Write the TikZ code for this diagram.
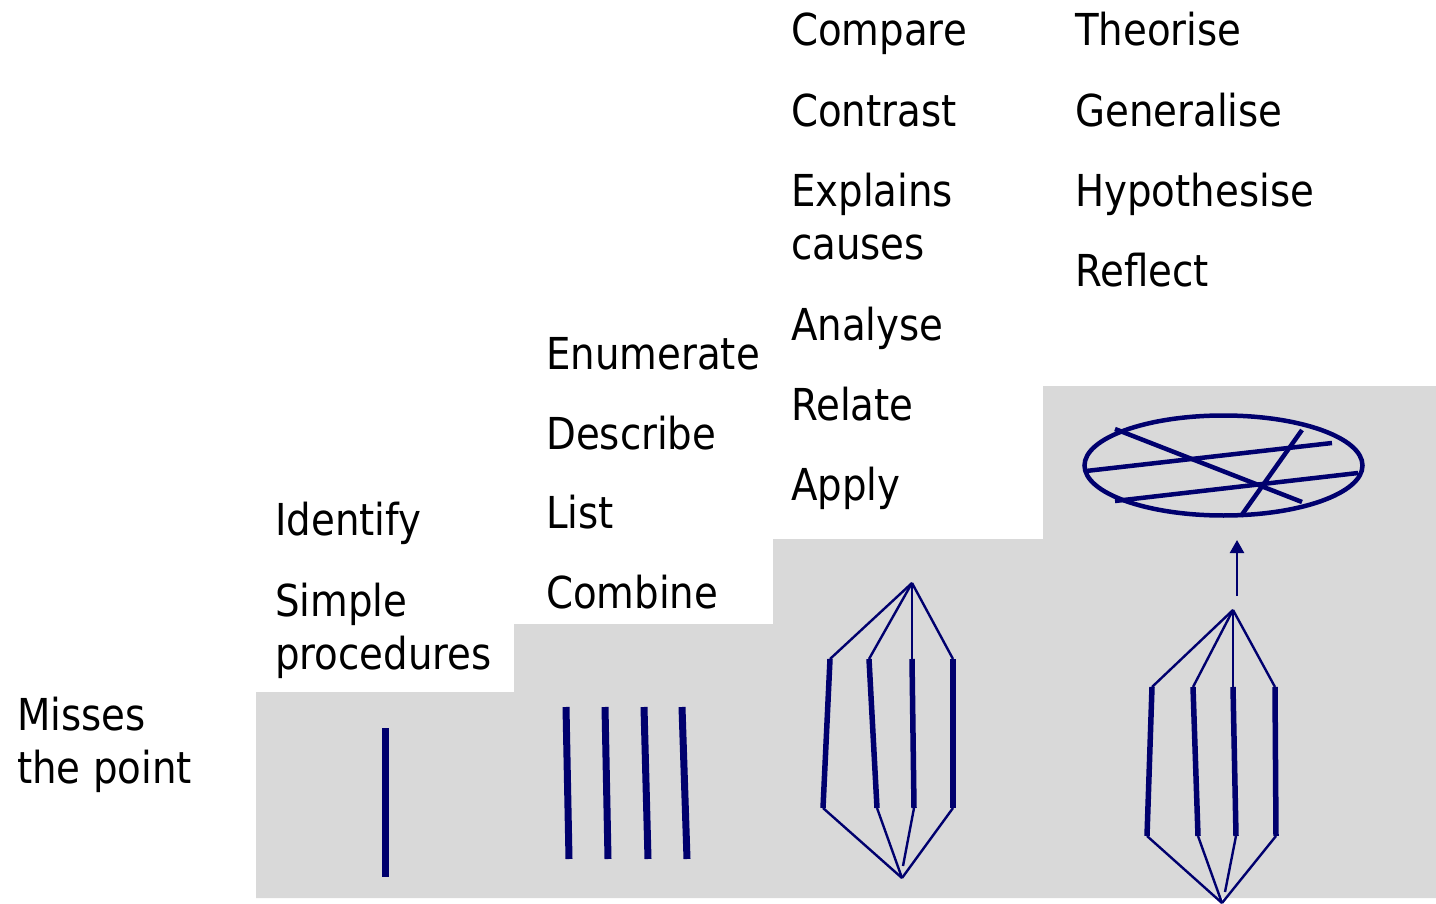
\documentclass[tikz,border=0pt]{standalone}
\usepackage{fontspec}
\setmainfont{DejaVu Sans}[FakeStretch=0.88]
\usetikzlibrary{arrows.meta,shapes.geometric}
\definecolor{navy}{RGB}{0,0,110}
\definecolor{stepgray}{RGB}{217,217,217}
\tikzset{
  lbl/.style={anchor=base west, inner sep=0pt, font=\fontsize{44}{53}\selectfont, align=left},
  plainbar/.style={draw=navy, line width=7pt},
  treebar/.style={draw=navy, line width=5.5pt},
  link/.style={draw=navy, line width=2.4pt},
  ring/.style={draw=navy, line width=4.5pt},
}
\begin{document}
\begin{tikzpicture}[x=1pt,y=-1pt]
\useasboundingbox (0,0) rectangle (1436,904);
% stepped background
\fill[stepgray] (256,898) -- (256,692) -- (514,692) -- (514,624) -- (773,624) -- (773,539)
  -- (1043,539) -- (1043,386) -- (1436,386) -- (1436,898) -- cycle;

% labels (multi-line nodes: base = last line)
\node[lbl] (miss) at (17,783) {Misses\\the point};
\node[lbl] (ident) at (275,535) {Identify};
\node[lbl] (simple) at (275,669) {Simple\\procedures};
\node[lbl] (enum) at (546,369) {Enumerate};
\node[lbl] (descr) at (546,449) {Describe};
\node[lbl] (list) at (546,528) {List};
\node[lbl] (comb) at (546,608) {Combine};
\node[lbl] (compare) at (791,46) {Compare};
\node[lbl] (contrast) at (791,127) {Contrast};
\node[lbl] (explain) at (791,260) {Explains\\causes};
\node[lbl] (analyse) at (791,341) {Analyse};
\node[lbl] (relate) at (791,420) {Relate};
\node[lbl] (apply) at (791,500) {Apply};
\node[lbl] (theor) at (1075,46) {Theorise};
\node[lbl] (gener) at (1075,127) {Generalise};
\node[lbl] (hypo) at (1075,207) {Hypothesise};
\node[lbl] (refl) at (1075,287) {Reflect};

% step 1: one bar
\coordinate (s1t) at (385,728); \coordinate (s1b) at (385,877);
\draw[plainbar] (s1t) -- (s1b);

% step 2: four bars
\coordinate (a1t) at (566,707); \coordinate (a1b) at (569,859);
\coordinate (a2t) at (605,707); \coordinate (a2b) at (608,859);
\coordinate (a3t) at (644,707); \coordinate (a3b) at (648,859);
\coordinate (a4t) at (682,707); \coordinate (a4b) at (687,859);
\foreach \i in {1,2,3,4} \draw[plainbar] (a\i t) -- (a\i b);

% step 3: related bars
\coordinate (r3top) at (912,583); \coordinate (r3bot) at (902,878);
\coordinate (b1t) at (830,659); \coordinate (b1b) at (823,808);
\coordinate (b2t) at (869,659); \coordinate (b2b) at (877,808);
\coordinate (b3t) at (912,659); \coordinate (b3b) at (914,808);
\coordinate (b4t) at (953,659); \coordinate (b4b) at (953,808);
\coordinate (b3e) at (903,866);
\foreach \i in {1,2,3,4} \draw[treebar] (b\i t) -- (b\i b);
\foreach \i in {1,2,3,4} \draw[link] (r3top) -- (b\i t);
\draw[link] (b1b) -- (r3bot);
\draw[link] (b2b) -- (r3bot);
\draw[link] (b3b) -- (b3e);
\draw[link] (b4b) -- (r3bot);

% step 4: related bars + arrow + extended ellipse
\coordinate (r4top) at (1233,610); \coordinate (r4bot) at (1222,903);
\coordinate (c1t) at (1152,687); \coordinate (c1b) at (1147,836);
\coordinate (c2t) at (1193,687); \coordinate (c2b) at (1198,836);
\coordinate (c3t) at (1233,687); \coordinate (c3b) at (1236,836);
\coordinate (c4t) at (1275,687); \coordinate (c4b) at (1276,836);
\coordinate (c3e) at (1225,892);
\foreach \i in {1,2,3,4} \draw[treebar] (c\i t) -- (c\i b);
\foreach \i in {1,2,3,4} \draw[link] (r4top) -- (c\i t);
\draw[link] (c1b) -- (r4bot);
\draw[link] (c2b) -- (r4bot);
\draw[link] (c3b) -- (c3e);
\draw[link] (c4b) -- (r4bot);

\coordinate (arrS) at (1237,596); \coordinate (arrE) at (1237,540);
\draw[link, -{Triangle[length=13pt, width=14pt]}] (arrS) -- (arrE);

\node[ring, ellipse, minimum width=278pt, minimum height=100pt, inner sep=0pt] (ell) at (1223.5,465.5) {};
\coordinate (e1a) at (1115,429); \coordinate (e1b) at (1302,502);
\coordinate (e2a) at (1086,471); \coordinate (e2b) at (1332,443);
\coordinate (e3a) at (1115,501); \coordinate (e3b) at (1358,473);
\coordinate (e4a) at (1241,516); \coordinate (e4b) at (1302,430);
\draw[ring] (e1a) -- (e1b);
\draw[ring] (e2a) -- (e2b);
\draw[ring] (e3a) -- (e3b);
\draw[ring] (e4a) -- (e4b);
\end{tikzpicture}
\end{document}
